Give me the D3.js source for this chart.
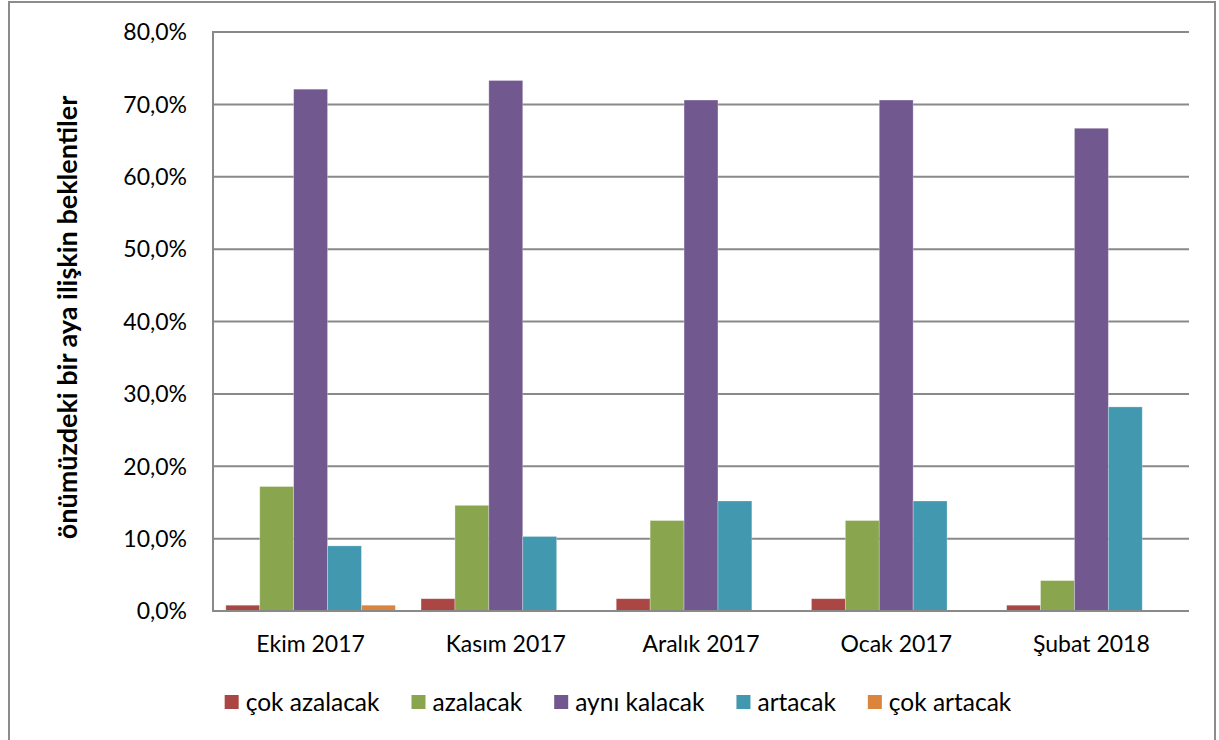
<!DOCTYPE html>
<html>
<head>
<meta charset="utf-8">
<script src="https://cdn.jsdelivr.net/npm/d3@7"></script>
<style>
  html, body { margin: 0; padding: 0; background: #fff; }
  svg { display: block; }
  text { font-family: Lato, "Open Sans", sans-serif; fill: #000; }
</style>
</head>
<body>
<svg id="chart" width="1219" height="740"></svg>
<script>
const categories = ["Ekim 2017", "Kasım 2017", "Aralık 2017", "Ocak 2017", "Şubat 2018"];
const seriesNames = ["çok azalacak", "azalacak", "aynı kalacak", "artacak", "çok artacak"];
const cokAzalacak = [0.8, 1.7, 1.7, 1.7, 0.8];
const azalacak    = [17.2, 14.6, 12.5, 12.5, 4.2];
const ayniKalacak = [72.1, 73.3, 70.6, 70.6, 66.7];
const artacak     = [9.0, 10.3, 15.2, 15.2, 28.2];
const cokArtacak  = [0.8, 0, 0, 0, 0];
const yTicks = [0, 10, 20, 30, 40, 50, 60, 70, 80];
const yTitle = "önümüzdeki bir aya ilişkin beklentiler";
const colors = ["#AA4643", "#89A54E", "#71588F", "#4198AF", "#DB843D"];

const seriesValues = [cokAzalacak, azalacak, ayniKalacak, artacak, cokArtacak];

const svg = d3.select("#chart");
const plot = { left: 213, right: 1189, top: 32, bottom: 611 };

// outer frame
svg.append("path")
  .attr("d", `M9,740 V2 H1215 V740`)
  .attr("fill", "none").attr("stroke", "#8c8c8c").attr("stroke-width", 2);

const y = d3.scaleLinear().domain([0, 80]).range([plot.bottom, plot.top]);
const x0 = d3.scaleBand().domain(categories).range([plot.left, plot.right]).padding(0);
const x1 = d3.scaleBand().domain(seriesNames).range([0, x0.bandwidth()])
  .paddingInner(0).paddingOuter(0.379);

// gridlines
svg.append("g").selectAll("line").data(yTicks.filter(d => d > 0)).join("line")
  .attr("x1", plot.left).attr("x2", plot.right)
  .attr("y1", d => y(d)).attr("y2", d => y(d))
  .attr("stroke", "#898989").attr("stroke-width", 2);

// bars
const rows = [];
categories.forEach((c, i) => {
  seriesNames.forEach((s, j) => rows.push({ c, s, j, v: seriesValues[j][i] }));
});
svg.append("g").selectAll("rect").data(rows.filter(d => d.v > 0)).join("rect")
  .attr("x", d => x0(d.c) + x1(d.s))
  .attr("width", x1.bandwidth())
  .attr("y", d => y(d.v))
  .attr("height", d => y(0) - y(d.v))
  .attr("fill", d => colors[d.j])
  .attr("stroke", "#ffffff").attr("stroke-opacity", 0.35).attr("stroke-width", 0.8);

// axes lines
svg.append("line").attr("x1", plot.left).attr("x2", plot.left)
  .attr("y1", plot.top - 1).attr("y2", plot.bottom + 1)
  .attr("stroke", "#898989").attr("stroke-width", 2);
svg.append("line").attr("x1", plot.left - 1).attr("x2", plot.right)
  .attr("y1", plot.bottom).attr("y2", plot.bottom)
  .attr("stroke", "#898989").attr("stroke-width", 2);

// y tick labels
svg.append("g").selectAll("text").data(yTicks).join("text")
  .attr("x", 187).attr("y", d => y(d)).attr("dy", "0.36em")
  .attr("text-anchor", "end").attr("font-size", 23)
  .text(d => d3.format(".1f")(d).replace(".", ",") + "%");

// category labels
svg.append("g").selectAll("text").data(categories).join("text")
  .attr("x", d => x0(d) + x0.bandwidth() / 2).attr("y", 652)
  .attr("text-anchor", "middle").attr("font-size", 23)
  .text(d => d);

// y title
svg.append("text")
  .attr("transform", `translate(77,${(plot.top + plot.bottom) / 2 - 4}) rotate(-90)`)
  .attr("text-anchor", "middle").attr("font-size", 27).attr("font-weight", "bold")
  .text(yTitle);

// legend
const legend = svg.append("g");
const items = legend.selectAll("g").data(seriesNames).join("g");
items.append("rect").attr("width", 14).attr("height", 14).attr("y", -7)
  .attr("fill", (d, i) => colors[i]);
items.append("text").attr("x", 21).attr("y", 0).attr("dy", "0.36em")
  .attr("font-size", 24.5).text(d => d);
let cx = 0;
const pos = [];
items.each(function () {
  const w = d3.select(this).select("text").node().getComputedTextLength();
  pos.push(cx);
  cx += 21 + w + 32;
});
const total = cx - 32;
const start = 618 - total / 2;
items.attr("transform", (d, i) => `translate(${start + pos[i]},702)`);
</script>
</body>
</html>
